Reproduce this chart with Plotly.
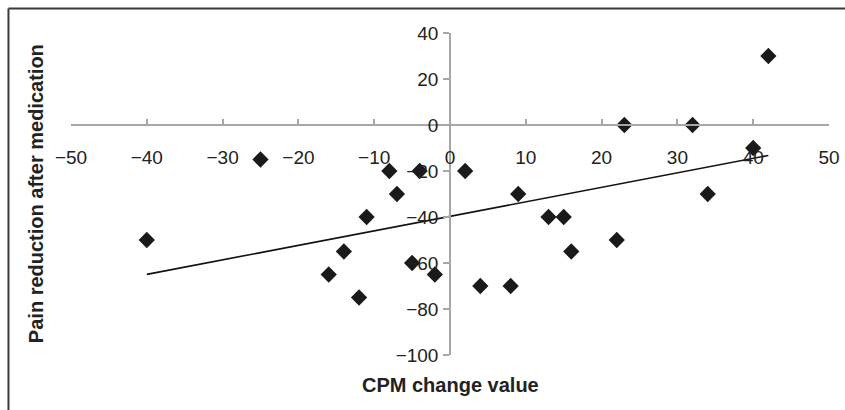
import numpy as np
import plotly.graph_objects as go

# Data
cpm_change = [-40, -25, -16, -14, -12, -11, -8, -7, -5, -4, -2, 2, 4, 8, 9, 13, 15, 16, 22, 23, 32, 34, 40, 42]
pain_reduction = [-50, -15, -65, -55, -75, -40, -20, -30, -60, -20, -65, -20, -70, -70, -30, -40, -40, -55, -50, 0, 0, -30, -10, 30]

x_ticks = [-50, -40, -30, -20, -10, 0, 10, 20, 30, 40, 50]
y_ticks = [-100, -80, -60, -40, -20, 0, 20, 40]
x_range = [-50, 50]
y_range = [-100, 40]

x_title = "CPM change value"
y_title = "Pain reduction after medication"

# linear trendline (least squares) over the data span
slope, intercept = np.polyfit(cpm_change, pain_reduction, 1)
trend_x = [min(cpm_change), max(cpm_change)]
trend_y = [slope * v + intercept for v in trend_x]

FONT = "Arial, Liberation Sans, sans-serif"
AXIS_COLOR = "#a6a6a6"
TEXT_COLOR = "#222222"

fig = go.Figure()
fig.add_trace(go.Scatter(
    x=trend_x, y=trend_y, mode="lines",
    line=dict(color="#111111", width=1.6),
    hoverinfo="skip", showlegend=False,
))
fig.add_trace(go.Scatter(
    x=cpm_change, y=pain_reduction, mode="markers",
    marker=dict(symbol="diamond", size=12.5, color="#1a1a1a", line=dict(width=0)),
    showlegend=False,
))

# position axes so they cross at the origin
x_pos = (0 - y_range[0]) / (y_range[1] - y_range[0])
y_pos = (0 - x_range[0]) / (x_range[1] - x_range[0])

fig.update_layout(
    width=845, height=410,
    margin=dict(l=71, r=16, t=33, b=55),
    paper_bgcolor="white", plot_bgcolor="white",
    font=dict(family=FONT, size=19, color=TEXT_COLOR),
    xaxis=dict(
        range=x_range, domain=[0, 1], anchor="free", position=x_pos,
        automargin=False,
        showline=True, linecolor=AXIS_COLOR, linewidth=1.5,
        ticks="inside", ticklen=5, tickwidth=1.5, tickcolor=AXIS_COLOR,
        tickvals=x_ticks, ticklabelstandoff=15,
        showgrid=False, zeroline=False,
        tickfont=dict(family=FONT, size=19, color=TEXT_COLOR),
    ),
    yaxis=dict(
        range=y_range, domain=[0, 1], anchor="free", position=y_pos,
        automargin=False,
        showline=True, linecolor=AXIS_COLOR, linewidth=1.5,
        ticks="outside", ticklen=6, tickwidth=1.5, tickcolor=AXIS_COLOR,
        tickvals=y_ticks, ticklabelstandoff=1,
        showgrid=False, zeroline=False,
        tickfont=dict(family=FONT, size=19, color=TEXT_COLOR),
    ),
    annotations=[
        dict(text="<b>" + x_title + "</b>", xref="paper", yref="paper",
             x=0.5, y=-0.093, xanchor="center", yanchor="middle",
             showarrow=False, font=dict(family=FONT, size=20, color=TEXT_COLOR)),
        dict(text="<b>" + y_title + "</b>", xref="paper", yref="paper",
             x=-0.046, y=0.5, xanchor="center", yanchor="middle", textangle=-90,
             showarrow=False, font=dict(family=FONT, size=20, color=TEXT_COLOR)),
    ],
    shapes=[
        dict(type="line", xref="paper", yref="paper",
             x0=-0.0825, x1=1.05, y0=1.076, y1=1.076,
             line=dict(color="#3a3a3a", width=2)),
        dict(type="line", xref="paper", yref="paper",
             x0=-0.0825, x1=-0.0825, y0=1.076, y1=-0.25,
             line=dict(color="#3a3a3a", width=2)),
    ],
)

fig.write_html(
    "out.html",
    config={"displayModeBar": False},
    post_script="document.body.style.margin='0';"
                "document.documentElement.style.overflow='hidden';"
                "document.body.style.overflow='hidden';",
)
